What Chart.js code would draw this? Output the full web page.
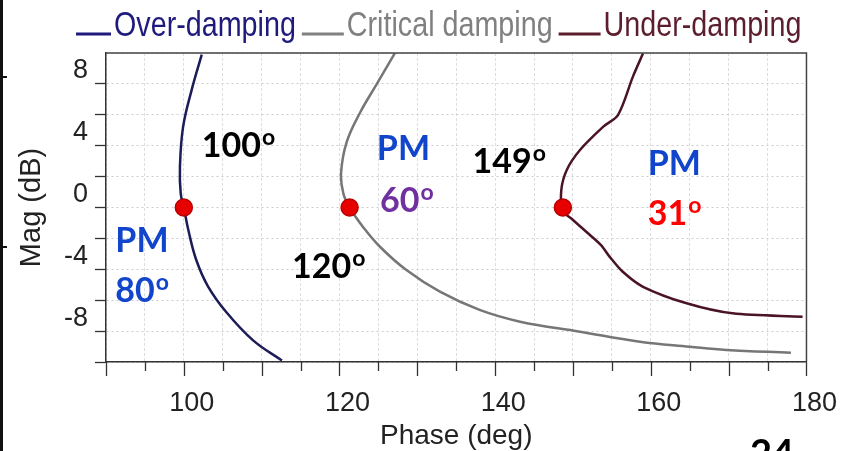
<!DOCTYPE html>
<html>
<head>
<meta charset="utf-8">
<script src="https://cdn.jsdelivr.net/npm/chart.js@4.4.1/dist/chart.umd.min.js"></script>
<style>
  html, body { margin: 0; padding: 0; background: #fff; }
  #wrap { position: relative; width: 854px; height: 451px; }
</style>
</head>
<body>
<div id="wrap"><canvas id="nichols"></canvas></div>
<script>
// Nichols chart: magnitude (dB) against phase (deg) for three damping cases
const seriesNames = ['Over-damping', 'Critical damping', 'Under-damping'];

const overPhase = [102.3, 101.0, 99.9, 99.5, 99.6, 100.0, 100.6, 101.6, 103.1, 105.5, 108.9, 112.6];
const overMag   = [9.9, 7.6, 5.2, 2.6, 0.9, 0.0, -1.5, -3.4, -5.1, -6.8, -8.6, -9.9];

const critPhase = [127.1, 124.8, 122.6, 120.9, 120.2, 120.5, 121.3, 123.0, 125.2, 128.6, 132.9, 138.0, 143.2, 150.9, 158.6, 165.0, 169.7, 178.0];
const critMag   = [9.98, 8.0, 6.1, 4.2, 2.2, 0.9, 0.0, -1.24, -2.54, -4.05, -5.45, -6.63, -7.39, -8.04, -8.69, -9.01, -9.22, -9.4];

const underPhase = [159.0, 157.7, 155.8, 153.9, 150.9, 149.2, 148.5, 148.7, 150.0, 151.7, 153.6, 154.7, 156.4, 159.0, 164.6, 170.5, 179.5];
const underMag   = [9.98, 8.47, 6.0, 5.23, 3.72, 2.43, 1.13, -0.2, -0.81, -1.57, -2.43, -3.18, -4.16, -5.13, -6.2, -6.85, -7.07];

// gain crossover points (0 dB)
const crossPhase = [100.0, 121.3, 148.7];
const crossMag   = [0, 0, 0];

const phaseLabels = [100, 120, 140, 160, 180];
const magLabels   = [-8, -4, 0, 4, 8];

// annotations anchored in data units (left edge, baseline)
const noteText  = ['100', 'PM', '60', '149', '120', 'PM', '31', 'PM', '80'];
const noteDeg   = [true, false, true, true, true, false, true, false, true];
const notePhase = [102.3, 124.8, 125.2, 137.1, 113.9, 159.6, 159.6, 91.2, 91.2];
const noteMag   = [3.27, 3.07, -0.29, 2.23, -4.56, 2.10, -1.13, -2.88, -6.12];

const COLORS = {
  over: '#1c1c58',
  crit: '#767676',
  under: '#4a1424',
  legend: ['#1f1a7c', '#808080', '#5c1e2e'],
  notes: ['#000', '#1045cc', '#7030a0', '#000', '#000', '#1045cc', '#ff0000', '#1045cc', '#1045cc']
};
const SANS = "'Liberation Sans', Arial, sans-serif";

function toPoints(xs, ys) {
  return xs.map((x, i) => ({ x: x, y: ys[i] }));
}

const decorPlugin = {
  id: 'decor',
  beforeDraw(chart) {
    const ctx = chart.ctx;
    ctx.save();
    ctx.fillStyle = '#fff';
    ctx.fillRect(0, 0, chart.width, chart.height);
    ctx.restore();
  },
  afterDraw(chart) {
    const ctx = chart.ctx;
    const area = chart.chartArea;
    const xs = chart.scales.x;
    ctx.save();

    // top and right frame
    ctx.strokeStyle = '#444';
    ctx.lineWidth = 1.5;
    ctx.beginPath();
    ctx.moveTo(area.left, area.top);
    ctx.lineTo(area.right, area.top);
    ctx.lineTo(area.right, area.bottom);
    ctx.stroke();

    // x tick marks, long every 10 deg, short every 5
    ctx.strokeStyle = '#333';
    ctx.lineWidth = 1.3;
    for (let v = xs.min; v <= xs.max; v += 5) {
      const px = Math.round(xs.getPixelForValue(v)) + 0.5;
      const len = v % 10 === 0 ? 14 : 9;
      ctx.beginPath();
      ctx.moveTo(px, area.bottom);
      ctx.lineTo(px, area.bottom + len);
      ctx.stroke();
    }

    // legend: underscore line then label (narrowed sans)
    const squeeze = 0.82;
    ctx.font = '35px ' + SANS;
    ctx.textBaseline = 'alphabetic';
    let x = 76;
    seriesNames.forEach((name, i) => {
      const lineLen = i === 0 ? 35 : 42;
      ctx.strokeStyle = COLORS.legend[i];
      ctx.lineWidth = 3;
      ctx.beginPath();
      ctx.moveTo(x, 34);
      ctx.lineTo(x + lineLen, 34);
      ctx.stroke();
      x += lineLen + 3;
      ctx.fillStyle = COLORS.legend[i];
      ctx.save();
      ctx.scale(squeeze, 1);
      ctx.fillText(name, x / squeeze, 36);
      ctx.restore();
      x += ctx.measureText(name).width * squeeze + 6;
    });

    // annotations
    const ys = chart.scales.y;
    noteText.forEach((t, i) => {
      const px = xs.getPixelForValue(notePhase[i]);
      const py = ys.getPixelForValue(noteMag[i]);
      ctx.fillStyle = COLORS.notes[i];
      ctx.font = 'bold 34px Lato, sans-serif';
      ctx.fillText(t, px, py);
      if (noteDeg[i]) {
        const w = ctx.measureText(t).width;
        ctx.font = 'bold 23px Lato, sans-serif';
        ctx.fillText('o', px + w + 1, py - 12);
      }
    });

    // slide page number, cut by the bottom edge
    ctx.fillStyle = '#000';
    ctx.font = 'bold 38px Lato, sans-serif';
    ctx.textBaseline = 'top';
    ctx.fillText('24', 750, 436);

    // slide border at far left
    ctx.fillStyle = '#111';
    ctx.fillRect(0, 0, 3, chart.height);
    ctx.fillRect(0, 76, 7, 2);
    ctx.fillRect(0, 246, 7, 2);
    ctx.restore();
  }
};

new Chart(document.getElementById('nichols'), {
  type: 'scatter',
  data: {
    datasets: [{
      label: 'crossover',
      data: toPoints(crossPhase, crossMag),
      pointRadius: 8.5,
      pointStyle: 'circle',
      backgroundColor: '#e60000',
      borderColor: '#b80000',
      borderWidth: 1.5,
      showLine: false,
      order: 0
    }, {
      label: seriesNames[0],
      data: toPoints(overPhase, overMag),
      borderColor: COLORS.over,
      borderWidth: 2.5,
      showLine: true,
      pointRadius: 0,
      tension: 0.4,
      order: 1
    }, {
      label: seriesNames[1],
      data: toPoints(critPhase, critMag),
      borderColor: COLORS.crit,
      borderWidth: 2.5,
      showLine: true,
      pointRadius: 0,
      tension: 0.4,
      order: 1
    }, {
      label: seriesNames[2],
      data: toPoints(underPhase, underMag),
      borderColor: COLORS.under,
      borderWidth: 2.5,
      showLine: true,
      pointRadius: 0,
      tension: 0.3,
      order: 1
    }]
  },
  options: {
    responsive: true,
    maintainAspectRatio: false,
    animation: false,
    layout: { padding: { top: 53, right: 47, left: 0, bottom: 0 } },
    plugins: {
      legend: { display: false },
      tooltip: { enabled: false }
    },
    scales: {
      x: {
        type: 'linear',
        min: 90,
        max: 180,
        afterFit(scale) { scale.height = 89; },
        ticks: {
          stepSize: 5,
          autoSkip: false,
          maxRotation: 0,
          labelOffset: 8,
          padding: 25,
          color: '#222',
          font: { family: SANS, size: 27 },
          callback: v => phaseLabels.includes(v) ? String(v) : ''
        },
        grid: { drawTicks: false, color: '#dedede', lineWidth: 1 },
        border: { color: '#333', width: 1.5, dash: [3, 2] },
        title: {
          display: true,
          text: 'Phase (deg)',
          color: '#222',
          font: { family: SANS, size: 28, lineHeight: 1 },
          padding: { top: 0, bottom: 1 }
        }
      },
      y: {
        type: 'linear',
        min: -10,
        max: 10,
        afterFit(scale) { scale.width = 106; },
        ticks: {
          stepSize: 2,
          autoSkip: false,
          labelOffset: -13,
          padding: 7,
          color: '#222',
          font: { family: SANS, size: 27 },
          callback: v => magLabels.includes(v) ? String(v) : ''
        },
        grid: {
          drawTicks: true,
          tickLength: 11,
          tickWidth: 1.3,
          tickBorderDash: [],
          tickColor: c => c.tick && c.tick.value === 10 ? 'rgba(0,0,0,0)' : '#333',
          color: '#cccccc',
          lineWidth: 1
        },
        border: { color: '#333', width: 1.5, dash: [2, 3] },
        title: {
          display: true,
          text: 'Mag (dB)',
          color: '#222',
          font: { family: SANS, size: 29, lineHeight: 1 },
          padding: { top: 17, bottom: 0 }
        }
      }
    }
  },
  plugins: [decorPlugin]
});
</script>
</body>
</html>
